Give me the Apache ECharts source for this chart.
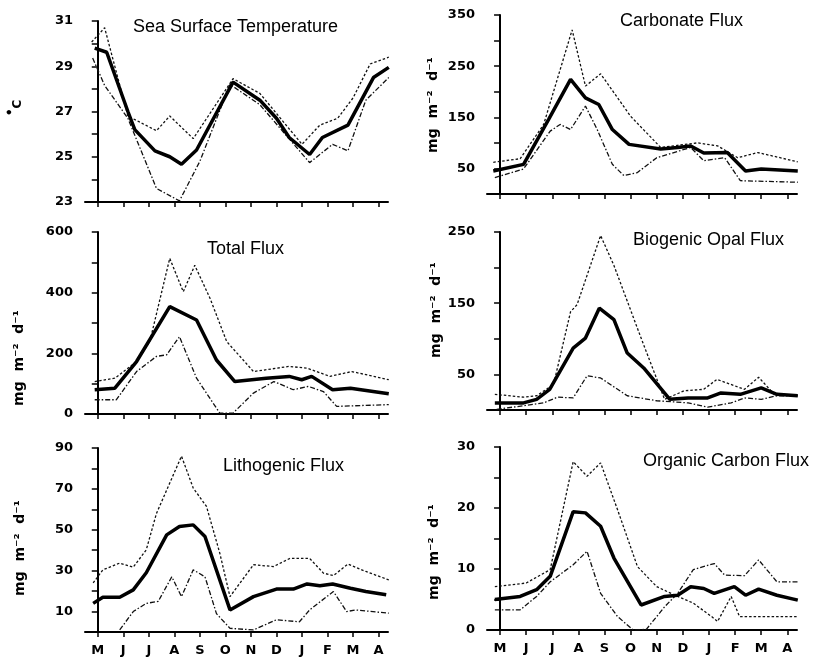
<!DOCTYPE html>
<html><head><meta charset="utf-8">
<script src="https://cdn.jsdelivr.net/npm/echarts@6/dist/echarts.min.js"></script>
<style>html,body{margin:0;padding:0;background:#fff}#c{width:826px;height:658px}</style>
</head><body><div id="c"></div>
<script>
// ---- data (x = month position, 0 = May ... 11 = April; y = value) ----
const monthLabels = ['M','J','J','A','S','O','N','D','J','F','M','A'];
const monthTicks = [0,1,2,3,4,5,6,7,8,9,10,11];

const sstMean  = [[-0.12,29.8],[0.35,29.62],[1.18,27.0],[1.45,26.2],[2.24,25.26],[2.82,25.0],[3.28,24.67],[3.87,25.3],[5.3,28.3],[6.35,27.5],[7.0,26.7],[7.5,25.85],[8.3,25.1],[8.8,25.85],[9.8,26.4],[10.8,28.5],[11.4,28.95]];
const sstUpper = [[-0.24,30.07],[0.27,30.7],[1.18,26.8],[2.3,26.15],[2.82,26.8],[3.74,25.8],[5.3,28.45],[6.35,27.8],[8.0,25.55],[8.7,26.4],[9.4,26.7],[10.0,27.6],[10.67,29.1],[11.4,29.4]];
const sstLower = [[-0.2,29.36],[0.27,28.15],[1.18,26.7],[2.3,23.6],[3.2,23.05],[4.0,24.8],[5.18,28.2],[6.35,27.3],[8.3,24.74],[9.2,25.55],[9.8,25.26],[10.5,27.5],[11.4,28.5]];

const carbMean  = [[-0.26,45],[0.9,58],[1.86,146],[2.7,224],[3.27,188],[3.78,175],[4.3,126],[4.94,97],[6.15,88],[6.8,91],[7.3,94],[7.8,80],[8.7,81],[9.4,45],[10.0,49],[11.4,45]];
const carbUpper = [[-0.26,62],[0.77,69],[1.67,136],[2.76,321],[3.27,211],[3.85,235],[5.0,152],[6.15,91],[7.56,100],[8.33,94],[9.1,71],[9.87,81],[11.4,63]];
const carbLower = [[-0.2,32],[0.9,49],[1.92,123],[2.3,136],[2.7,126],[3.27,172],[3.72,126],[4.3,58],[4.74,36],[5.26,42],[6.0,71],[7.3,91],[7.8,65],[8.6,71],[9.2,26],[11.4,23]];

const totMean  = [[-0.12,80],[0.67,85],[1.52,173],[2.82,354],[3.87,310],[4.65,178],[5.37,107],[6.6,118],[7.5,124],[7.99,113],[8.38,124],[9.2,80],[9.9,85],[11.4,67]];
const totUpper = [[-0.12,107],[0.67,118],[1.52,173],[2.04,239],[2.82,513],[3.35,403],[3.8,490],[4.4,381],[5.05,239],[6.1,140],[7.5,157],[8.2,151],[9.1,124],[9.95,140],[11.4,113]];
const totLower = [[-0.12,47],[0.73,47],[1.52,140],[2.3,190],[2.7,195],[3.2,255],[3.87,118],[4.78,3],[5.3,3],[6.1,69],[6.9,107],[7.66,80],[8.25,91],[8.84,74],[9.36,25],[11.4,31]];

const opalMean  = [[-0.2,10],[0.9,10],[1.4,15],[1.9,29],[2.8,87],[3.27,101],[3.8,143],[4.36,127],[4.87,80],[5.5,59],[6.5,15],[7.2,17],[7.95,17],[8.46,24],[9.2,22],[10.0,31],[10.6,22],[11.4,20]];
const opalUpper = [[-0.2,22],[0.9,18],[1.4,20],[2.05,36],[2.7,138],[2.95,148],[3.85,245],[4.36,203],[5.4,101],[6.3,15],[7.05,27],[7.8,29],[8.3,43],[9.36,29],[9.9,46],[10.5,22],[11.4,20]];
const opalLower = [[-0.13,1],[0.9,6],[1.67,10],[2.2,18],[2.8,17],[3.33,48],[3.85,45],[4.87,20],[6.0,13],[7.2,10],[7.95,4],[8.85,10],[9.36,17],[10.0,15],[10.6,20],[11.4,20]];

const lithMean  = [[-0.18,14],[0.2,17],[0.86,17],[1.39,20.6],[1.9,29],[2.7,47.5],[3.2,51.6],[3.74,52.4],[4.2,46.7],[5.18,10.8],[6.1,17.3],[7.0,21],[7.66,21],[8.2,23.5],[8.7,22.6],[9.2,23.5],[9.9,21.4],[10.5,19.8],[11.3,18.2]];
const lithUpper = [[-0.18,24],[0.2,30.4],[0.86,33.7],[1.39,31.7],[1.9,40.2],[2.3,58],[3.28,86],[3.74,70.4],[4.26,61.4],[4.78,38.6],[5.18,17.3],[6.1,32.9],[6.88,32],[7.53,36],[8.3,36],[8.84,28.8],[9.23,27.6],[9.8,33.2],[10.5,29.6],[11.4,25.5]];
const lithLower = [[0.86,1],[1.39,10],[1.9,14],[2.37,15],[2.9,27],[3.28,17.3],[3.74,30.4],[4.2,27],[4.65,9],[5.18,1.8],[6.1,1],[7.0,6],[7.9,5],[8.3,10.8],[9.23,19.8],[9.75,10],[10.1,10.8],[11.4,9.2]];

const ocMean  = [[-0.2,5.0],[0.77,5.5],[1.4,6.6],[1.92,8.8],[2.8,19.4],[3.27,19.2],[3.85,17],[4.36,11.8],[5.4,4.1],[6.3,5.5],[6.8,5.7],[7.3,7.1],[7.8,6.8],[8.2,6.0],[8.97,7.1],[9.4,5.7],[9.9,6.7],[10.6,5.7],[11.4,4.9]];
const ocUpper = [[-0.2,7.1],[1.0,7.7],[1.92,9.9],[2.8,27.6],[3.33,25.2],[3.85,27.4],[4.5,19.7],[5.26,10.4],[6.0,7.1],[6.8,5.5],[7.4,4.4],[8.1,2.2],[8.33,1.4],[8.85,5.5],[9.17,2.2],[11.4,2.2]];
const ocLower = [[-0.2,3.3],[0.77,3.3],[1.4,5.5],[1.92,7.9],[2.8,10.7],[3.33,12.9],[3.85,6.0],[4.5,2.2],[5.1,0],[5.6,0.1],[6.3,3.8],[6.8,6.0],[7.4,9.9],[8.2,10.9],[8.6,9.0],[9.36,8.9],[9.9,11.5],[10.6,7.9],[11.4,7.9]];

const titles = ['Sea Surface Temperature','Carbonate Flux','Total Flux','Biogenic Opal Flux','Lithogenic Flux','Organic Carbon Flux'];
const unitLabel = 'mg  m\u207B\u00B2  d\u207B\u00B9';

// ---- layout ----
const L = {left:85, width:303}, R = {left:487, width:310};
const panels = [
  {g:{...L, top:21,  height:181}, min:23, max:31,  step:1,   lab:v=>v%2===1,   d:[sstMean,sstUpper,sstLower],   bottom:false, title:[133,28],  name:null},
  {g:{...R, top:15,  height:179}, min:0,  max:350, step:50,  lab:v=>v%100===50, d:[carbMean,carbUpper,carbLower], bottom:false, title:[620,22], name:[433,105]},
  {g:{...L, top:232, height:182}, min:0,  max:600, step:100, lab:v=>v%200===0,  d:[totMean,totUpper,totLower],    bottom:false, title:[207,250], name:[19,358]},
  {g:{...R, top:232, height:178}, min:0,  max:250, step:50,  lab:v=>v%100===50, d:[opalMean,opalUpper,opalLower], bottom:false, title:[633,241], name:[436,310]},
  {g:{...L, top:448, height:184}, min:0,  max:90,  step:10,  lab:v=>v%20===10,  d:[lithMean,lithUpper,lithLower], bottom:true,  title:[223,467], name:[20,548]},
  {g:{...R, top:447, height:183}, min:0,  max:30,  step:5,   lab:v=>v%10===0,   d:[ocMean,ocUpper,ocLower],       bottom:true,  title:[643,462], name:[434,552]}
];

const tickFont = {color:'#000', fontFamily:'DejaVu Sans', fontWeight:'bold', fontSize:13};
const grid=[], xAxis=[], yAxis=[], series=[], graphic=[];
panels.forEach((p,i)=>{
  grid.push(p.g);
  xAxis.push({type:'value', gridIndex:i, min:-0.5, max:11.37,
    axisLine:{show:true, onZero:false, lineStyle:{color:'#000', width:2}},
    axisTick:{show:true, customValues:monthTicks, length:5, lineStyle:{color:'#000', width:1.5}},
    axisLabel:{show:p.bottom, customValues:monthTicks, formatter:v=>monthLabels[Math.round(v)]||'', margin:12, ...tickFont},
    splitLine:{show:false}});
  yAxis.push({type:'value', gridIndex:i, min:p.min, max:p.max, interval:p.step,
    axisLine:{show:true, lineStyle:{color:'#000', width:2}},
    axisTick:{show:true, length:6, lineStyle:{color:'#000', width:1.5}},
    axisLabel:{formatter:v=>p.lab(Math.round(v))?String(v):'', margin:12, ...tickFont},
    splitLine:{show:false}});
  const styles = [
    {color:'#000', width:3.5, type:'solid'},
    {color:'#111', width:1.3, type:[2.5,2]},
    {color:'#111', width:1.3, type:[5,2,1.5,2]}
  ];
  p.d.forEach((arr,k)=>{
    series.push({type:'line', xAxisIndex:i, yAxisIndex:i, data:arr, showSymbol:false, symbol:'none',
      lineStyle:styles[k], z: k===0?3:2, silent:true, animation:false});
  });
  graphic.push({type:'text', left:p.title[0], top:p.title[1]-10,
    style:{text:titles[i], fill:'#000', font:'18px "Liberation Sans", Arial, sans-serif'}});
  if(p.name){
    graphic.push({type:'text', x:p.name[0], y:p.name[1], rotation:Math.PI/2,
      style:{text:unitLabel, fill:'#000', font:'bold 14px "DejaVu Sans", sans-serif', align:'center', verticalAlign:'middle'}});
  }
});
// degree C label for SST
graphic.push({type:'text', x:9, y:114, style:{text:'\u2022', fill:'#000', font:'bold 13px "DejaVu Sans"', align:'center', verticalAlign:'middle'}});
graphic.push({type:'text', x:18, y:104, rotation:Math.PI/2, style:{text:'C', fill:'#000', font:'bold 12px "DejaVu Sans"', align:'center', verticalAlign:'middle'}});

const chart = echarts.init(document.getElementById('c'), null, {renderer:'canvas'});
chart.setOption({animation:false, backgroundColor:'#fff', grid, xAxis, yAxis, series, graphic});
</script></body></html>
